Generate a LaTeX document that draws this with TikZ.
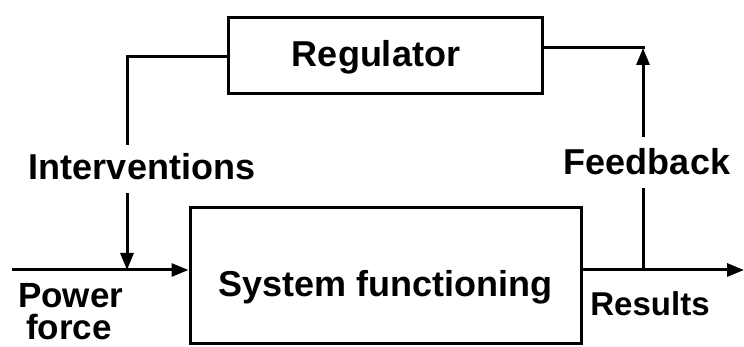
\documentclass[tikz,border=0pt]{standalone}
\usepackage{fontspec}
\setmainfont{Liberation Sans}
\usetikzlibrary{arrows.meta}
\begin{document}
\begin{tikzpicture}[x=1pt,y=-1pt,
  box/.style={draw,line width=3pt,inner sep=0pt},
  lbl/.style={font=\fontsize{36}{36}\selectfont\bfseries,inner sep=0pt,anchor=base},
  wire/.style={line width=3pt},
  arr/.style={wire,-{Triangle[length=17pt,width=13pt]}}]
\useasboundingbox (0,0) rectangle (744,347);
\fill[white] (0,0) rectangle (744,347);
\node[box,minimum width=314pt,minimum height=76pt,font=\fontsize{36}{36}\selectfont\bfseries,text height=28pt,text depth=7pt] (reg) at (385,56) {\hspace*{-18pt}Regulator};
\node[box,minimum width=391pt,minimum height=135pt,font=\fontsize{36}{36}\selectfont\bfseries,text height=50pt,text depth=7pt] (sys) at (385.5,275.5) {System functioning};
\node[lbl] (intv) at (142,180) {Interventions};
\node[lbl] (fb) at (647,175) {Feedback};
\node[lbl,font=\fontsize{33}{33}\selectfont\bfseries] (res) at (650,315) {Results};
\node[lbl,anchor=base west,align=left,font=\fontsize{35}{33}\selectfont\bfseries] (pow) at (18,339) {Power\\[-1pt]\hspace*{8pt}force};
\coordinate (pin) at (12,270);
\coordinate (j1) at (127,270);
\coordinate (c1) at (127,57);
\coordinate (c1b) at (127,145);
\coordinate (c1c) at (127,193);
\coordinate (j2) at (643,270);
\coordinate (c2) at (643,188);
\coordinate (c2b) at (643,137);
\coordinate (c2t) at (643,48);
\coordinate (out) at (744,270);
% power input
\draw[arr] (pin) -- (sys.west |- pin);
% interventions
\draw[wire] (reg.west |- c1) -- (c1) -- (c1b);
\draw[arr] (c1c) -- (j1);
% results
\draw[arr] (sys.east |- j2) -- (out);
% feedback
\draw[wire] (j2) -- (c2);
\draw[arr] (c2b) -- (c2t);
\draw[wire] (reg.east |- c2t) -- ([xshift=1.5pt]c2t);
\end{tikzpicture}
\end{document}
